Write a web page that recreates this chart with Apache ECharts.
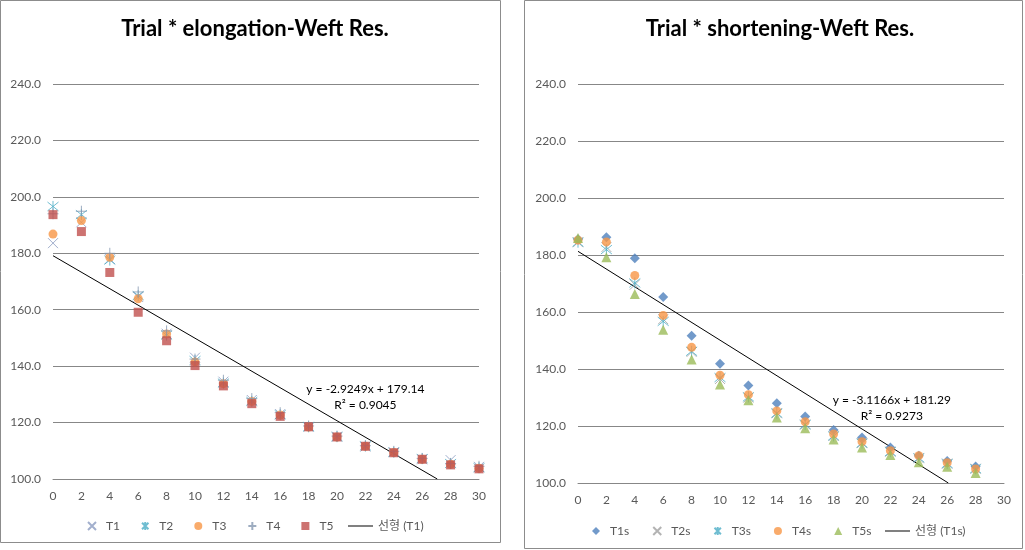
<!DOCTYPE html>
<html><head><meta charset="utf-8">
<script src="https://cdn.jsdelivr.net/npm/echarts@6/dist/echarts.min.js"></script>
<style>html,body{margin:0;padding:0;background:#fff}#c{width:1025px;height:550px}</style>
</head><body><div id="c"></div>
<script>
// ---- data ----
const xLeft = [0,2,4,6,8,10,12,14,16,18,20,22,24,26,28,30];
const T1 = [183.6,191.0,178.0,164.5,151.5,143.0,134.5,128.0,123.0,118.5,115.0,111.5,109.5,107.0,106.7,104.3];
const T2 = [196.6,193.7,177.6,165.0,151.0,142.0,134.0,127.5,122.8,118.5,115.0,111.7,109.5,107.2,105.5,104.0];
const T3 = [186.8,191.6,178.6,163.9,151.4,141.5,133.8,127.5,122.7,118.4,114.9,111.6,109.4,107.0,105.2,103.8];
const T4 = [194.0,194.9,180.0,166.3,152.5,142.5,135.0,128.5,123.5,118.8,115.2,111.8,109.8,107.3,105.5,104.5];
const T5 = [193.7,187.7,173.2,159.1,149.0,140.2,133.0,126.7,122.2,118.5,114.9,111.6,109.3,107.0,105.0,103.6];
const trendLeft = [[0,179.14],[27.06,100]];
const eqLeft = 'y = -2.9249x + 179.14\nR² = 0.9045';

const xRight = [0,2,4,6,8,10,12,14,16,18,20,22,24,26,28];
const T1s = [185.5,186.2,178.9,165.3,151.7,141.8,134.2,128.0,123.3,118.6,116.0,112.5,109.6,107.7,105.8];
const T2s = [184.5,182.8,169.6,157.5,146.0,136.5,130.0,124.5,120.5,116.5,114.0,111.0,108.7,106.8,105.0];
const T3s = [184.5,181.9,170.2,156.7,146.2,137.0,130.2,124.5,120.5,116.5,114.0,111.0,108.8,106.8,105.0];
const T4s = [185.2,184.6,172.8,158.8,147.6,137.8,131.0,125.3,121.5,117.2,114.5,111.3,109.6,107.1,104.9];
const T5s = [186.0,179.2,166.3,153.8,143.3,134.6,129.0,123.0,119.2,115.3,112.5,109.8,107.3,105.7,103.5];
const trendRight = [[0,181.29],[26.08,100]];
const eqRight = 'y = -3.1166x + 181.29\nR² = 0.9273';

const yTicks = {min:100, max:240, interval:20};
const xTicks = {min:0, max:30, interval:2};

// ---- styling ----
const FONT = "Lato, 'Liberation Sans', 'Noto Sans CJK KR', sans-serif";
const SYM_X = 'path://M0,0L10,10M10,0L0,10';
const SYM_AST = 'path://M1,1L9,9M9,1L1,9M5,0L5,10';
const SYM_PLUS = 'path://M5,0L5,10M0,5L10,5';
const zip = (xs, ys) => xs.map((x,i)=>[x, ys[i]]);

function axes(gi){
  return {
    x: {type:'value', gridIndex:gi, min:xTicks.min, max:xTicks.max, interval:xTicks.interval,
        axisLine:{show:true, lineStyle:{color:'#878787'}}, axisTick:{show:false}, splitLine:{show:false},
        axisLabel:{color:'#595959', fontSize:12, fontFamily:FONT, margin:11}},
    y: {type:'value', gridIndex:gi, min:yTicks.min, max:yTicks.max, interval:yTicks.interval,
        axisLine:{show:false}, axisTick:{show:false},
        splitLine:{show:true, lineStyle:{color:'#878787', width:1}},
        axisLabel:{color:'#595959', fontSize:12, fontFamily:FONT, margin:12, formatter:v=>v.toFixed(1)}}
  };
}
const a0 = axes(0), a1 = axes(1);

function strokeSeries(name, gi, data, sym, color, size){
  return {name, type:'scatter', xAxisIndex:gi, yAxisIndex:gi, data, symbol:sym, symbolSize:size,
    itemStyle:{color:'rgba(0,0,0,0)', borderColor:color, borderWidth:1}};
}
function fillSeries(name, gi, data, sym, color, size){
  return {name, type:'scatter', xAxisIndex:gi, yAxisIndex:gi, data, symbol:sym, symbolSize:size,
    itemStyle:{color:color}};
}
function trendSeries(name, gi, data, eq, labelAt){
  return {name, type:'line', xAxisIndex:gi, yAxisIndex:gi, data, symbol:'none', clip:true,
    lineStyle:{color:'#000', width:1}, itemStyle:{color:'#000'}, z:1,
    markPoint:{symbol:'circle', symbolSize:1, itemStyle:{color:'rgba(0,0,0,0)'},
      data:[{coord:labelAt}],
      label:{show:true, position:'inside', formatter:eq, color:'#000', fontSize:12, fontFamily:FONT,
        lineHeight:16, align:'center'}}};
}

const legendText = {fontSize:12, fontFamily:FONT, color:'#595959', padding:[0,0,0,5]};
const legendLineText = {fontSize:12, fontFamily:FONT, color:'#595959'};
const option = {
  animation:false,
  backgroundColor:'#fff',
  title:[
    {text:'Trial * elongation-Weft Res.', left:250, top:13, textAlign:'center',
     textStyle:{fontSize:22, fontWeight:'bold', fontFamily:FONT, color:'#000'}},
    {text:'Trial * shortening-Weft Res.', left:775, top:13, textAlign:'center',
     textStyle:{fontSize:22, fontWeight:'bold', fontFamily:FONT, color:'#000'}}
  ],
  grid:[
    {left:53, right:546, top:84, bottom:71},
    {left:578, right:21, top:84, bottom:67}
  ],
  xAxis:[a0.x, a1.x],
  yAxis:[a0.y, a1.y],
  legend:[
    {data:['T1','T2','T3','T4','T5'], left:87, top:520, itemWidth:8, itemHeight:8, itemGap:21,
     padding:0, textStyle:legendText},
    {data:['선형 (T1)'], left:348, top:520, itemWidth:25, itemHeight:1, icon:'rect', padding:0, textStyle:legendLineText},
    {data:['T1s','T2s','T3s','T4s','T5s'], left:592, top:525, itemWidth:8, itemHeight:8, itemGap:23,
     padding:0, textStyle:legendText},
    {data:['선형 (T1s)'], left:885, top:525, itemWidth:25, itemHeight:1, icon:'rect', padding:0, textStyle:legendLineText}
  ],
  graphic:[
    {type:'rect', shape:{x:0.5, y:0.5, width:500, height:542}, style:{fill:'none', stroke:'#8c8c8c', lineWidth:1}, silent:true},
    {type:'rect', shape:{x:524.5, y:0.5, width:498, height:548}, style:{fill:'none', stroke:'#8c8c8c', lineWidth:1}, silent:true}
  ],
  series:[
    trendSeries('선형 (T1)', 0, trendLeft, eqLeft, [22.0, 129.1]),
    strokeSeries('T1', 0, zip(xLeft, T1), SYM_X, '#8b9bc0', 10),
    strokeSeries('T2', 0, zip(xLeft, T2), SYM_AST, '#4BACC6', 11),
    fillSeries('T3', 0, zip(xLeft, T3), 'circle', '#F79646', 9),
    strokeSeries('T4', 0, zip(xLeft, T4), SYM_PLUS, '#8497b0', 11),
    fillSeries('T5', 0, zip(xLeft, T5), 'rect', '#C0504D', 9),

    trendSeries('선형 (T1s)', 1, trendRight, eqRight, [22.1, 126.1]),
    fillSeries('T1s', 1, zip(xRight, T1s), 'diamond', '#4F81BD', 10),
    strokeSeries('T2s', 1, zip(xRight, T2s), SYM_X, '#a0a0a0', 10),
    strokeSeries('T3s', 1, zip(xRight, T3s), SYM_AST, '#4BACC6', 11),
    fillSeries('T4s', 1, zip(xRight, T4s), 'circle', '#F79646', 9),
    fillSeries('T5s', 1, zip(xRight, T5s), 'triangle', '#9BBB59', 10)
  ]
};
const chart = echarts.init(document.getElementById('c'), null, {renderer:'canvas'});
chart.setOption(option);
</script></body></html>
